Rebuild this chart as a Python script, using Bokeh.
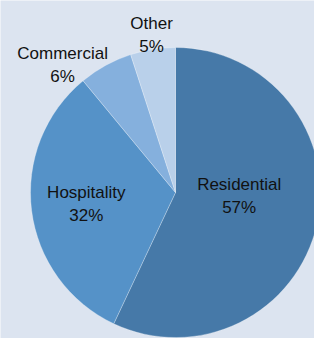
import math, re
from bokeh.plotting import figure
from bokeh.models import ColumnDataSource, Range1d
from bokeh.core.properties import value
from bokeh.embed import file_html
from bokeh.resources import INLINE

categories = ["Residential", "Hospitality", "Commercial", "Other"]
shares = [57, 32, 6, 5]
colors = ["#4679a8", "#5592c8", "#85b0dd", "#b9d0ea"]

W, H = 314, 338
BG = "#dce4f0"
cx, cy, R = 175, H - 192, 145

total = float(sum(shares))
starts, ends, mids = [], [], []
acc = 0.0
for s in shares:
    f0 = acc / total
    acc += s
    f1 = acc / total
    starts.append(math.pi / 2 - 2 * math.pi * f0)
    ends.append(math.pi / 2 - 2 * math.pi * f1)
    mids.append(math.pi / 2 - 2 * math.pi * (f0 + f1) / 2)

# label layout: radial factor along slice mid-angle plus pixel nudges
label_k = [0.45, 0.62, 1.0, 1.1]
nudge_x = [0, 0, -43, 1]
nudge_y = [11, 0, 0, 0]

lx = [cx + k * R * math.cos(a) + dx for k, a, dx in zip(label_k, mids, nudge_x)]
ly = [cy + k * R * math.sin(a) + dy for k, a, dy in zip(label_k, mids, nudge_y)]

src = ColumnDataSource(dict(
    cat=categories, pct=[f"{s}%" for s in shares], color=colors,
    start=starts, end=ends, lx=lx, ly=ly,
))

p = figure(width=W, height=H, output_backend="svg", toolbar_location=None,
           x_range=Range1d(0, W), y_range=Range1d(0, H),
           x_axis_location=None, y_axis_location=None,
           min_border=0, background_fill_color=BG, border_fill_color=BG,
           outline_line_color=None)
p.grid.visible = False

p.wedge(x=cx, y=cy, radius=R, start_angle="start", end_angle="end",
        direction="clock", fill_color="color", line_color="#ffffff",
        line_alpha=0.35, line_width=0.8, source=src)

common = dict(text_font=value("Liberation Sans"), text_font_size="17px",
              text_color="#111111", text_align="center", text_baseline="middle",
              source=src)
p.text(x="lx", y="ly", text="cat", y_offset=-11.5, **common)
p.text(x="lx", y="ly", text="pct", y_offset=11.5, **common)

html = file_html(p, INLINE)
html = re.sub(r"<body[^>]*>", f'<body style="margin:0;background:{BG};">', html, count=1)
open("out.html", "w").write(html)
